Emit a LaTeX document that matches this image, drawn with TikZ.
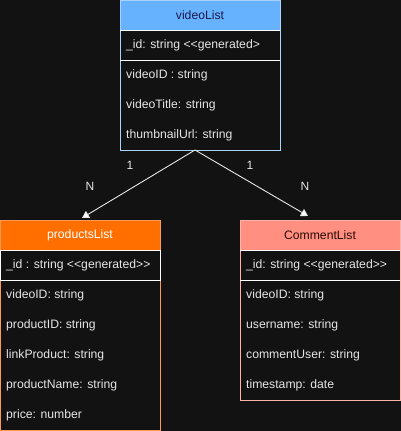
\documentclass[tikz,border=0pt]{standalone}
\usepackage{fontspec}
\setmainfont{Liberation Sans}
\usetikzlibrary{arrows.meta}
\definecolor{bgc}{HTML}{121212}
\definecolor{vhead}{HTML}{66B2FF}
\definecolor{vline}{HTML}{A9D2FF}
\definecolor{vtitle}{HTML}{1A1A4D}
\definecolor{phead}{HTML}{FF6F00}
\definecolor{pline}{HTML}{FF9A55}
\definecolor{chead}{HTML}{FF8F80}
\definecolor{cline}{HTML}{FFB3AA}
\definecolor{ctitle}{HTML}{2A0A05}
\definecolor{txt}{HTML}{E6E6E6}
\begin{document}
\begin{tikzpicture}[x=1pt,y=-1pt,
  rowtext/.style={anchor=west,inner sep=0pt,text=txt,font=\fontsize{12.2}{14}\selectfont},
  title/.style={inner sep=0pt,font=\fontsize{12.2}{14}\selectfont},
  lbl/.style={inner sep=0pt,text=txt,font=\fontsize{12}{14}\selectfont},
  conn/.style={draw=txt,line width=0.9pt,-{Triangle[width=8pt,length=7pt,fill=white]}}]
\fill[bgc] (0,0) rectangle (401,431);
\useasboundingbox (0,0) rectangle (401,431);

% videoList
\fill[vhead] (120,0) rectangle (280,30);
\draw[vline,line width=0.8pt] (120,0) rectangle (280,150);
\draw[white,line width=0.8pt] (120,30) -- (280,30);
\draw[white,line width=0.8pt] (120,60) -- (280,60);
\node[title,text=vtitle] (vt) at (200,15) {videoList};
\node[rowtext] (v1) at (126,45) {\_id: string <{}<generated>};
\node[rowtext] (v2) at (126,75) {videoID : string};
\node[rowtext] (v3) at (126,105) {videoTitle: string};
\node[rowtext] (v4) at (126,135) {thumbnailUrl: string};
\coordinate (vbot) at (195,150);

% productsList
\fill[phead] (0,220) rectangle (160,250);
\draw[pline,line width=0.8pt] (0,220) rectangle (160,430);
\draw[white,line width=0.8pt] (0,250) rectangle (160,280);
\node[title,text=white] (pt) at (80,235) {productsList};
\node[rowtext] (p1) at (6,265) {\_id : string <{}<generated>{}>};
\node[rowtext] (p2) at (6,295) {videoID: string};
\node[rowtext] (p3) at (6,325) {productID: string};
\node[rowtext] (p4) at (6,355) {linkProduct: string};
\node[rowtext] (p5) at (6,385) {productName: string};
\node[rowtext] (p6) at (6,415) {price: number};
\coordinate (ptop) at (82,218);

% CommentList
\fill[chead] (240,220) rectangle (400,250);
\draw[cline,line width=0.8pt] (240,220) rectangle (400,400);
\draw[white,line width=0.8pt] (240,250) -- (400,250);
\draw[white,line width=0.8pt] (240,280) -- (400,280);
\node[title,text=ctitle] (ct) at (320,235) {CommentList};
\node[rowtext] (c1) at (246,265) {\_id: string <{}<generated>{}>};
\node[rowtext] (c2) at (246,295) {videoID: string};
\node[rowtext] (c3) at (246,325) {username: string};
\node[rowtext] (c4) at (246,355) {commentUser: string};
\node[rowtext] (c5) at (246,385) {timestamp: date};
\coordinate (ctop) at (308,216);

% connectors
\draw[conn] (vbot) -- (ptop);
\draw[conn] (vbot) -- (ctop);
\node[lbl] (l1) at (130,165) {1};
\node[lbl] (n1) at (90,186) {N};
\node[lbl] (l2) at (250,165) {1};
\node[lbl] (n2) at (305,186) {N};
\end{tikzpicture}
\end{document}
